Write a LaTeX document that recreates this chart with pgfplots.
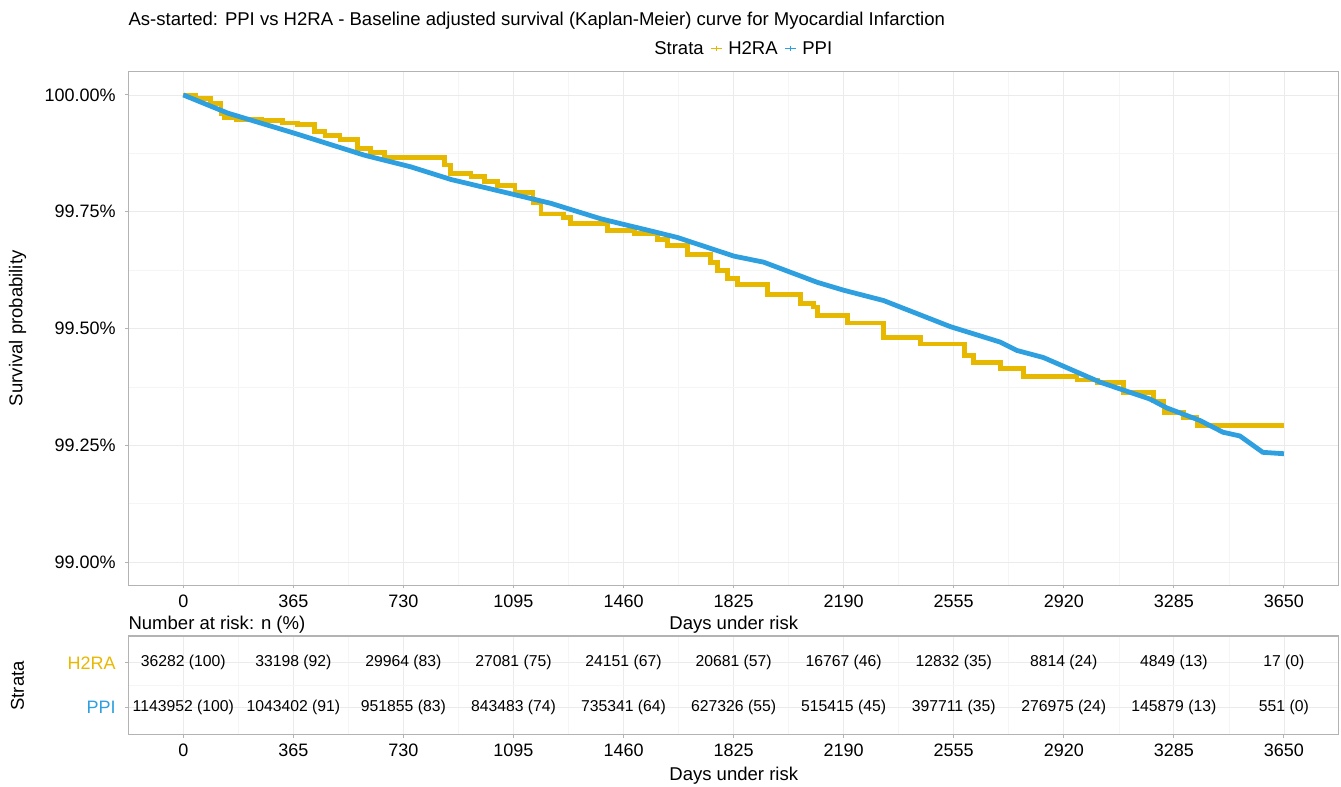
\documentclass[border=0pt]{standalone}
\usepackage{fontspec}
\setmainfont{Liberation Sans}
\usepackage{pgfplots}
\pgfplotsset{compat=1.18}

\definecolor{h2ra}{HTML}{E7B800}
\definecolor{ppi}{HTML}{2E9FDF}
\definecolor{majgrid}{HTML}{EBEBEB}
\definecolor{mingrid}{HTML}{F5F5F5}
\definecolor{framec}{HTML}{B3B3B3}

\newcommand{\lab}{\fontsize{13.5}{16}\selectfont}
\newcommand{\ttl}{\fontsize{13.9}{16}\selectfont}
\newcommand{\riskfont}{\fontsize{11.8}{14}\selectfont}

\pgfplotsset{
  kmbase/.style={
    scale only axis, width=908pt,
    xmin=-182.5, xmax=3832.5,
    xtick={0,365,730,1095,1460,1825,2190,2555,2920,3285,3650},
    minor x tick num=1,
    grid=both,
    major grid style={draw=majgrid, line width=0.6pt},
    minor grid style={draw=mingrid, line width=0.4pt},
    axis line style={draw=framec, line width=0.8pt},
    tick align=outside, tick pos=left,
    major tick length=2.25pt, minor tick length=0pt,
    tick style={draw=framec, line width=0.8pt},
    ticklabel style={font=\lab, text=black},
    xticklabel style={anchor=base, yshift=-14pt},
    yticklabel style={anchor=east, inner sep=0pt, xshift=-7pt},
    /pgf/number format/assume math mode=true,
    /pgf/number format/1000 sep={},
  }
}

\begin{document}
\begin{tikzpicture}

\node[anchor=base west, inner sep=0pt, font=\ttl] at (96.2pt,-19.5pt)
  {As-started: PPI vs H2RA - Baseline adjusted survival (Kaplan-Meier) curve for Myocardial Infarction};

% legend
\node[anchor=base west, inner sep=0pt, font=\ttl] at (490.5pt,-41.25pt) {Strata};
\draw[h2ra, line width=1.1pt] (533.25pt,-36.2pt) -- (541.5pt,-36.2pt);
\draw[h2ra, line width=1.1pt] (537.4pt,-34.2pt) -- (537.4pt,-38.2pt);
\node[anchor=base west, inner sep=0pt, font=\ttl] at (546pt,-41.25pt) {H2RA};
\draw[ppi, line width=1.1pt] (588.75pt,-36.2pt) -- (597pt,-36.2pt);
\draw[ppi, line width=1.1pt] (592.9pt,-34.2pt) -- (592.9pt,-38.2pt);
\node[anchor=base west, inner sep=0pt, font=\ttl] at (601.5pt,-41.25pt) {PPI};

% survival curves
\begin{axis}[kmbase,
  at={(96.2pt,-53.7pt)}, anchor=north west, height=385.4pt,
  ymin=98.95, ymax=100.05,
  ytick={99,99.25,99.5,99.75,100},
  yticklabels={99.00\%,99.25\%,99.50\%,99.75\%,100.00\%},
  minor y tick num=1,
]
\addplot[const plot, h2ra, line width=3.6pt] coordinates {
(0,100) (40,99.992) (90,99.982) (125,99.960) (135,99.951) (175,99.947)
(260,99.945) (330,99.940) (380,99.936) (434,99.922) (470,99.914)
(520,99.905) (579,99.886) (620,99.876) (667,99.866) (865,99.850)
(885,99.832) (954,99.825) (1000,99.815) (1043,99.807) (1100,99.792)
(1160,99.770) (1186,99.745) (1260,99.737) (1285,99.725) (1408,99.710)
(1496,99.703) (1573,99.690) (1606,99.677) (1672,99.659) (1749,99.642)
(1771,99.624) (1804,99.607) (1838,99.594) (1937,99.573) (2047,99.553)
(2090,99.546) (2102,99.528) (2203,99.512) (2322,99.480) (2444,99.467)
(2590,99.442) (2620,99.428) (2709,99.414) (2786,99.397) (2964,99.390)
(3031,99.385) (3117,99.363) (3217,99.345) (3252,99.320) (3318,99.310)
(3362,99.292) (3650,99.292)};
\addplot[ppi, line width=3.6pt] coordinates {
(0,100) (148,99.961) (369,99.918) (601,99.871) (755,99.846) (888,99.819)
(1109,99.785) (1219,99.768) (1384,99.735) (1460,99.723) (1550,99.709)
(1638,99.695) (1826,99.655) (1925,99.642) (2102,99.599) (2190,99.582)
(2322,99.560) (2433,99.532) (2544,99.504) (2709,99.471) (2765,99.453)
(2852,99.438) (2920,99.419) (3041,99.385) (3206,99.349) (3262,99.330)
(3372,99.303) (3448,99.278) (3504,99.270) (3580,99.235) (3650,99.232)};
\end{axis}

% number at risk table
\begin{axis}[kmbase,
  at={(96.2pt,-477pt)}, anchor=north west, height=73.9pt,
  ymin=0.4, ymax=2.6,
  ytick={1,2},
  yticklabels={\textcolor{ppi}{PPI},\textcolor{h2ra}{H2RA}},
  minor y tick num=1,
]
\addplot[draw=none] coordinates {(0,1) (3650,2)};
\begin{scope}[every node/.style={font=\riskfont, text=black}]
\node at (axis cs:0,2) {36282 (100)};
\node at (axis cs:365,2) {33198 (92)};
\node at (axis cs:730,2) {29964 (83)};
\node at (axis cs:1095,2) {27081 (75)};
\node at (axis cs:1460,2) {24151 (67)};
\node at (axis cs:1825,2) {20681 (57)};
\node at (axis cs:2190,2) {16767 (46)};
\node at (axis cs:2555,2) {12832 (35)};
\node at (axis cs:2920,2) {8814 (24)};
\node at (axis cs:3285,2) {4849 (13)};
\node at (axis cs:3650,2) {17 (0)};
\node at (axis cs:0,1) {1143952 (100)};
\node at (axis cs:365,1) {1043402 (91)};
\node at (axis cs:730,1) {951855 (83)};
\node at (axis cs:1095,1) {843483 (74)};
\node at (axis cs:1460,1) {735341 (64)};
\node at (axis cs:1825,1) {627326 (55)};
\node at (axis cs:2190,1) {515415 (45)};
\node at (axis cs:2555,1) {397711 (35)};
\node at (axis cs:2920,1) {276975 (24)};
\node at (axis cs:3285,1) {145879 (13)};
\node at (axis cs:3650,1) {551 (0)};
\end{scope}
\end{axis}

\node[anchor=base west, inner sep=0pt, font=\ttl] at (96.2pt,-471.75pt) {Number at risk: n (\%)};
\node[anchor=base, font=\ttl] at (550.3pt,-471.75pt) {Days under risk};
\node[anchor=base, font=\ttl] at (550.3pt,-585.5pt) {Days under risk};
\node[rotate=90, font=\ttl] at (13.1pt,-246.2pt) {Survival probability};
\node[rotate=90, font=\ttl] at (13.1pt,-514.4pt) {Strata};

\pgfresetboundingbox
\path[use as bounding box] (0,0) rectangle (1005.75pt,-590.25pt);
\end{tikzpicture}
\end{document}
